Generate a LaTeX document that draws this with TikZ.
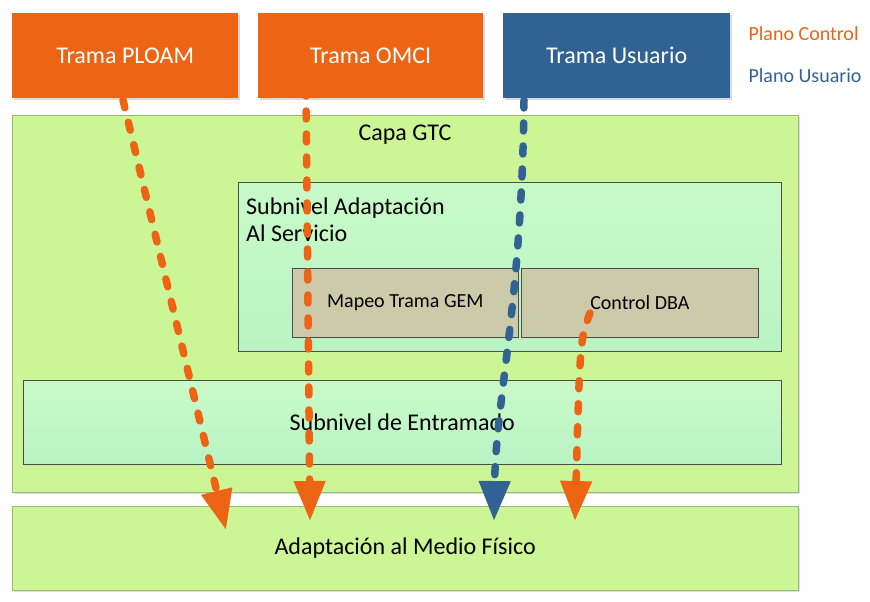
\documentclass[tikz,border=0pt]{standalone}
\usepackage{fontspec}
\setmainfont{Carlito}
\usetikzlibrary{arrows.meta,shadows}
\definecolor{ctlorange}{RGB}{236,100,20}
\definecolor{usrblue}{RGB}{48,98,148}
\definecolor{layergreen}{RGB}{204,246,150}
\definecolor{layeredge}{RGB}{150,190,110}
\definecolor{subgreen}{RGB}{200,250,200}
\definecolor{subgreenb}{RGB}{186,244,196}
\definecolor{funtan}{RGB}{204,202,168}
\tikzset{
  x=1pt, y=-1pt,
  planebox/.style={anchor=north west, inner sep=0pt, minimum height=85pt,
    text=white, font=\fontsize{24}{28}\selectfont,
    drop shadow={shadow xshift=2pt, shadow yshift=-2pt, opacity=0.3}},
  layerbox/.style={anchor=north west, inner sep=0pt, fill=layergreen, draw=layeredge,
    drop shadow={shadow xshift=2pt, shadow yshift=-2pt, opacity=0.25}},
  subbox/.style={anchor=north west, inner sep=0pt, draw=black!70, line width=0.6pt,
    top color=subgreen, bottom color=subgreenb},
  funbox/.style={anchor=north west, inner sep=0pt, draw=black!70, line width=0.6pt,
    fill=funtan, font=\fontsize{20}{24}\selectfont},
  legend/.style={anchor=west, font=\fontsize{20}{24}\selectfont},
  biglabel/.style={font=\fontsize{24}{28}\selectfont},
  flow/.style={line width=7.5pt, line cap=round, dash pattern=on 8pt off 15pt,
    -{Triangle[length=40pt,width=30pt]}},
}
\begin{document}
\begin{tikzpicture}
\useasboundingbox (0,0) rectangle (870,602);

% Frame sources
\node[planebox, fill=ctlorange, minimum width=226pt] (ploam) at (12,13) {Trama PLOAM};
\node[planebox, fill=ctlorange, minimum width=225pt] (omci) at (258,13) {Trama OMCI};
\node[planebox, fill=usrblue, minimum width=227pt] (user) at (503,13) {Trama Usuario};

% Legend
\node[legend, text=ctlorange] (legc) at (745,34) {Plano Control};
\node[legend, text=usrblue] (legu) at (745,76) {Plano Usuario};

% GTC layer
\node[layerbox, minimum width=786pt, minimum height=377pt] (gtc) at (12,115) {};
\node[biglabel] (gtclbl) at (405,135) {Capa GTC};

% Service adaptation sublayer
\node[subbox, minimum width=543pt, minimum height=169pt] (adap) at (238,182) {};
\node[biglabel, anchor=base west, inner sep=0pt] (adaplbl) at (246,214) {Subnivel Adaptación};
\node[biglabel, anchor=base west, inner sep=0pt] (adaplbl2) at (246,241) {Al Servicio};

\node[funbox, minimum width=226pt, minimum height=69pt] (gem) at (292,268) {Mapeo Trama GEM};
\node[funbox, minimum width=237pt, minimum height=69pt] (dba) at (521,268) {Control DBA};

% Framing sublayer
\node[subbox, biglabel, minimum width=758pt, minimum height=84pt] (ent) at (23,380) {Subnivel de Entramado};

% Physical medium adaptation
\node[layerbox, biglabel, minimum width=786pt, minimum height=84pt] (pma) at (12,506) {Adaptación al Medio Físico};

% Flow arrows
\coordinate (p0) at (123,100);
\coordinate (p1) at (226,530);
\coordinate (o0) at (306,88);
\coordinate (o1) at (310,521);
\coordinate (u0) at (524,100);
\coordinate (u1) at (494,521);
\coordinate (d0) at (590,313);
\coordinate (d1) at (575,521);

\draw[flow, ctlorange] (p0) -- (p1);
\draw[flow, ctlorange] (o0) -- (o1);
\draw[flow, usrblue] (u0) .. controls (522,300) and (496,400) .. (u1);
\draw[flow, ctlorange] (d0) .. controls (580,340) .. (d1);
\end{tikzpicture}
\end{document}
